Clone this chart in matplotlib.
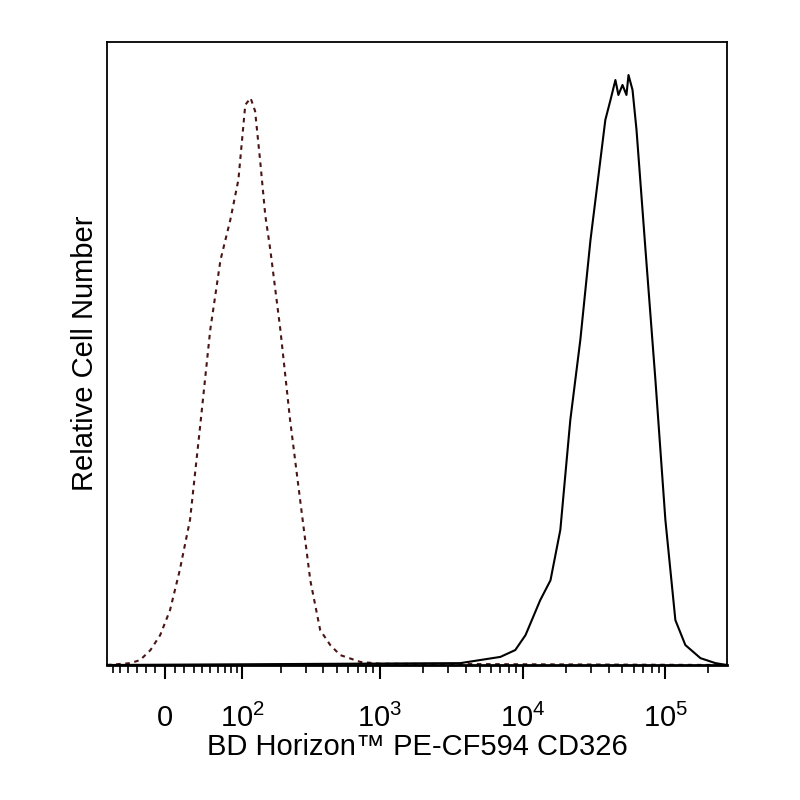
import numpy as np
import matplotlib
matplotlib.use("Agg")
import matplotlib.pyplot as plt
from matplotlib.ticker import FixedLocator, FixedFormatter

plt.rcParams['font.family'] = ['Liberation Sans', 'DejaVu Sans']
plt.rcParams['mathtext.fontset'] = 'custom'
plt.rcParams['mathtext.rm'] = 'Liberation Sans'
plt.rcParams['mathtext.it'] = 'Liberation Sans'

# isotype control (dashed)
ctrl_x = [-68, -37, -26, -15, -5, 5, 15, 26, 37, 50, 64, 79, 93, 106, 117, 127, 139,
          152, 166, 197, 232, 274, 324, 381, 449, 527, 730, 1010, 270000]
ctrl_y = [0.0, 0.003, 0.008, 0.024, 0.048, 0.088, 0.152, 0.233, 0.377, 0.538, 0.650,
          0.714, 0.779, 0.899, 0.910, 0.889, 0.809, 0.722, 0.666, 0.538, 0.393,
          0.265, 0.136, 0.056, 0.032, 0.016, 0.005, 0.002, 0.0]
# CD326 stained (solid)
stain_x = [-68, 3670, 5070, 7000, 8900, 10500, 13300, 15700, 18400, 21600, 25400, 29900,
           35100, 38000, 41300, 44700, 46900, 50100, 53400, 55200, 58900, 62800,
           72600, 85200, 100000, 117500, 138000, 176000, 224000, 270000]
stain_y = [0.0, 0.003, 0.008, 0.013, 0.024, 0.048, 0.104, 0.136, 0.217, 0.393, 0.522,
           0.682, 0.811, 0.875, 0.907, 0.939, 0.915, 0.931, 0.915, 0.947, 0.923,
           0.859, 0.666, 0.457, 0.233, 0.072, 0.032, 0.011, 0.003, 0.0]

major_vals = [0, 100, 1000, 10000, 100000]
major_labels = ['0', r'$10^2$', r'$10^3$', r'$10^4$', r'$10^5$']

W = 63.0
fwd = lambda x: np.arcsinh(np.asarray(x, float) / W)
inv = lambda y: W * np.sinh(np.asarray(y, float))

fig = plt.figure(figsize=(8, 8), dpi=100)
ax = fig.add_axes([107 / 800, 135 / 800, 620 / 800, 623 / 800])
ax.set_xscale('function', functions=(fwd, inv))
ax.plot(ctrl_x, ctrl_y, color='#4a1515', lw=1.5, ls=(0, (2.2, 2.2)))
ax.plot(stain_x, stain_y, color='black', lw=1.5)
ax.set_xlim(-68, 270000)
ax.set_ylim(0, 1)

minor = [-m * 10 for m in range(1, 7)] + [m * 10 for m in range(1, 10)]
for dec in [100, 1000, 10000, 100000]:
    minor += [m * dec for m in range(2, 10)]
minor = [v for v in minor if -68 < v < 270000]
ax.xaxis.set_major_locator(FixedLocator(major_vals))
ax.xaxis.set_major_formatter(FixedFormatter(major_labels))
ax.xaxis.set_minor_locator(FixedLocator(minor))
ax.tick_params(axis='x', which='major', length=10, width=1.5, direction='out', labelsize=21, pad=18)
ax.tick_params(axis='x', which='minor', length=6, width=1.2, direction='out')
ax.set_yticks([])
for s in ax.spines.values():
    s.set_linewidth(1.3)
ax.spines['bottom'].set_linewidth(2)

ax.set_xlabel('BD Horizon™ PE-CF594 CD326', fontsize=21, labelpad=0)
ax.set_ylabel('Relative Cell Number', fontsize=21, labelpad=6)

fig.savefig('out.png', dpi=100)
